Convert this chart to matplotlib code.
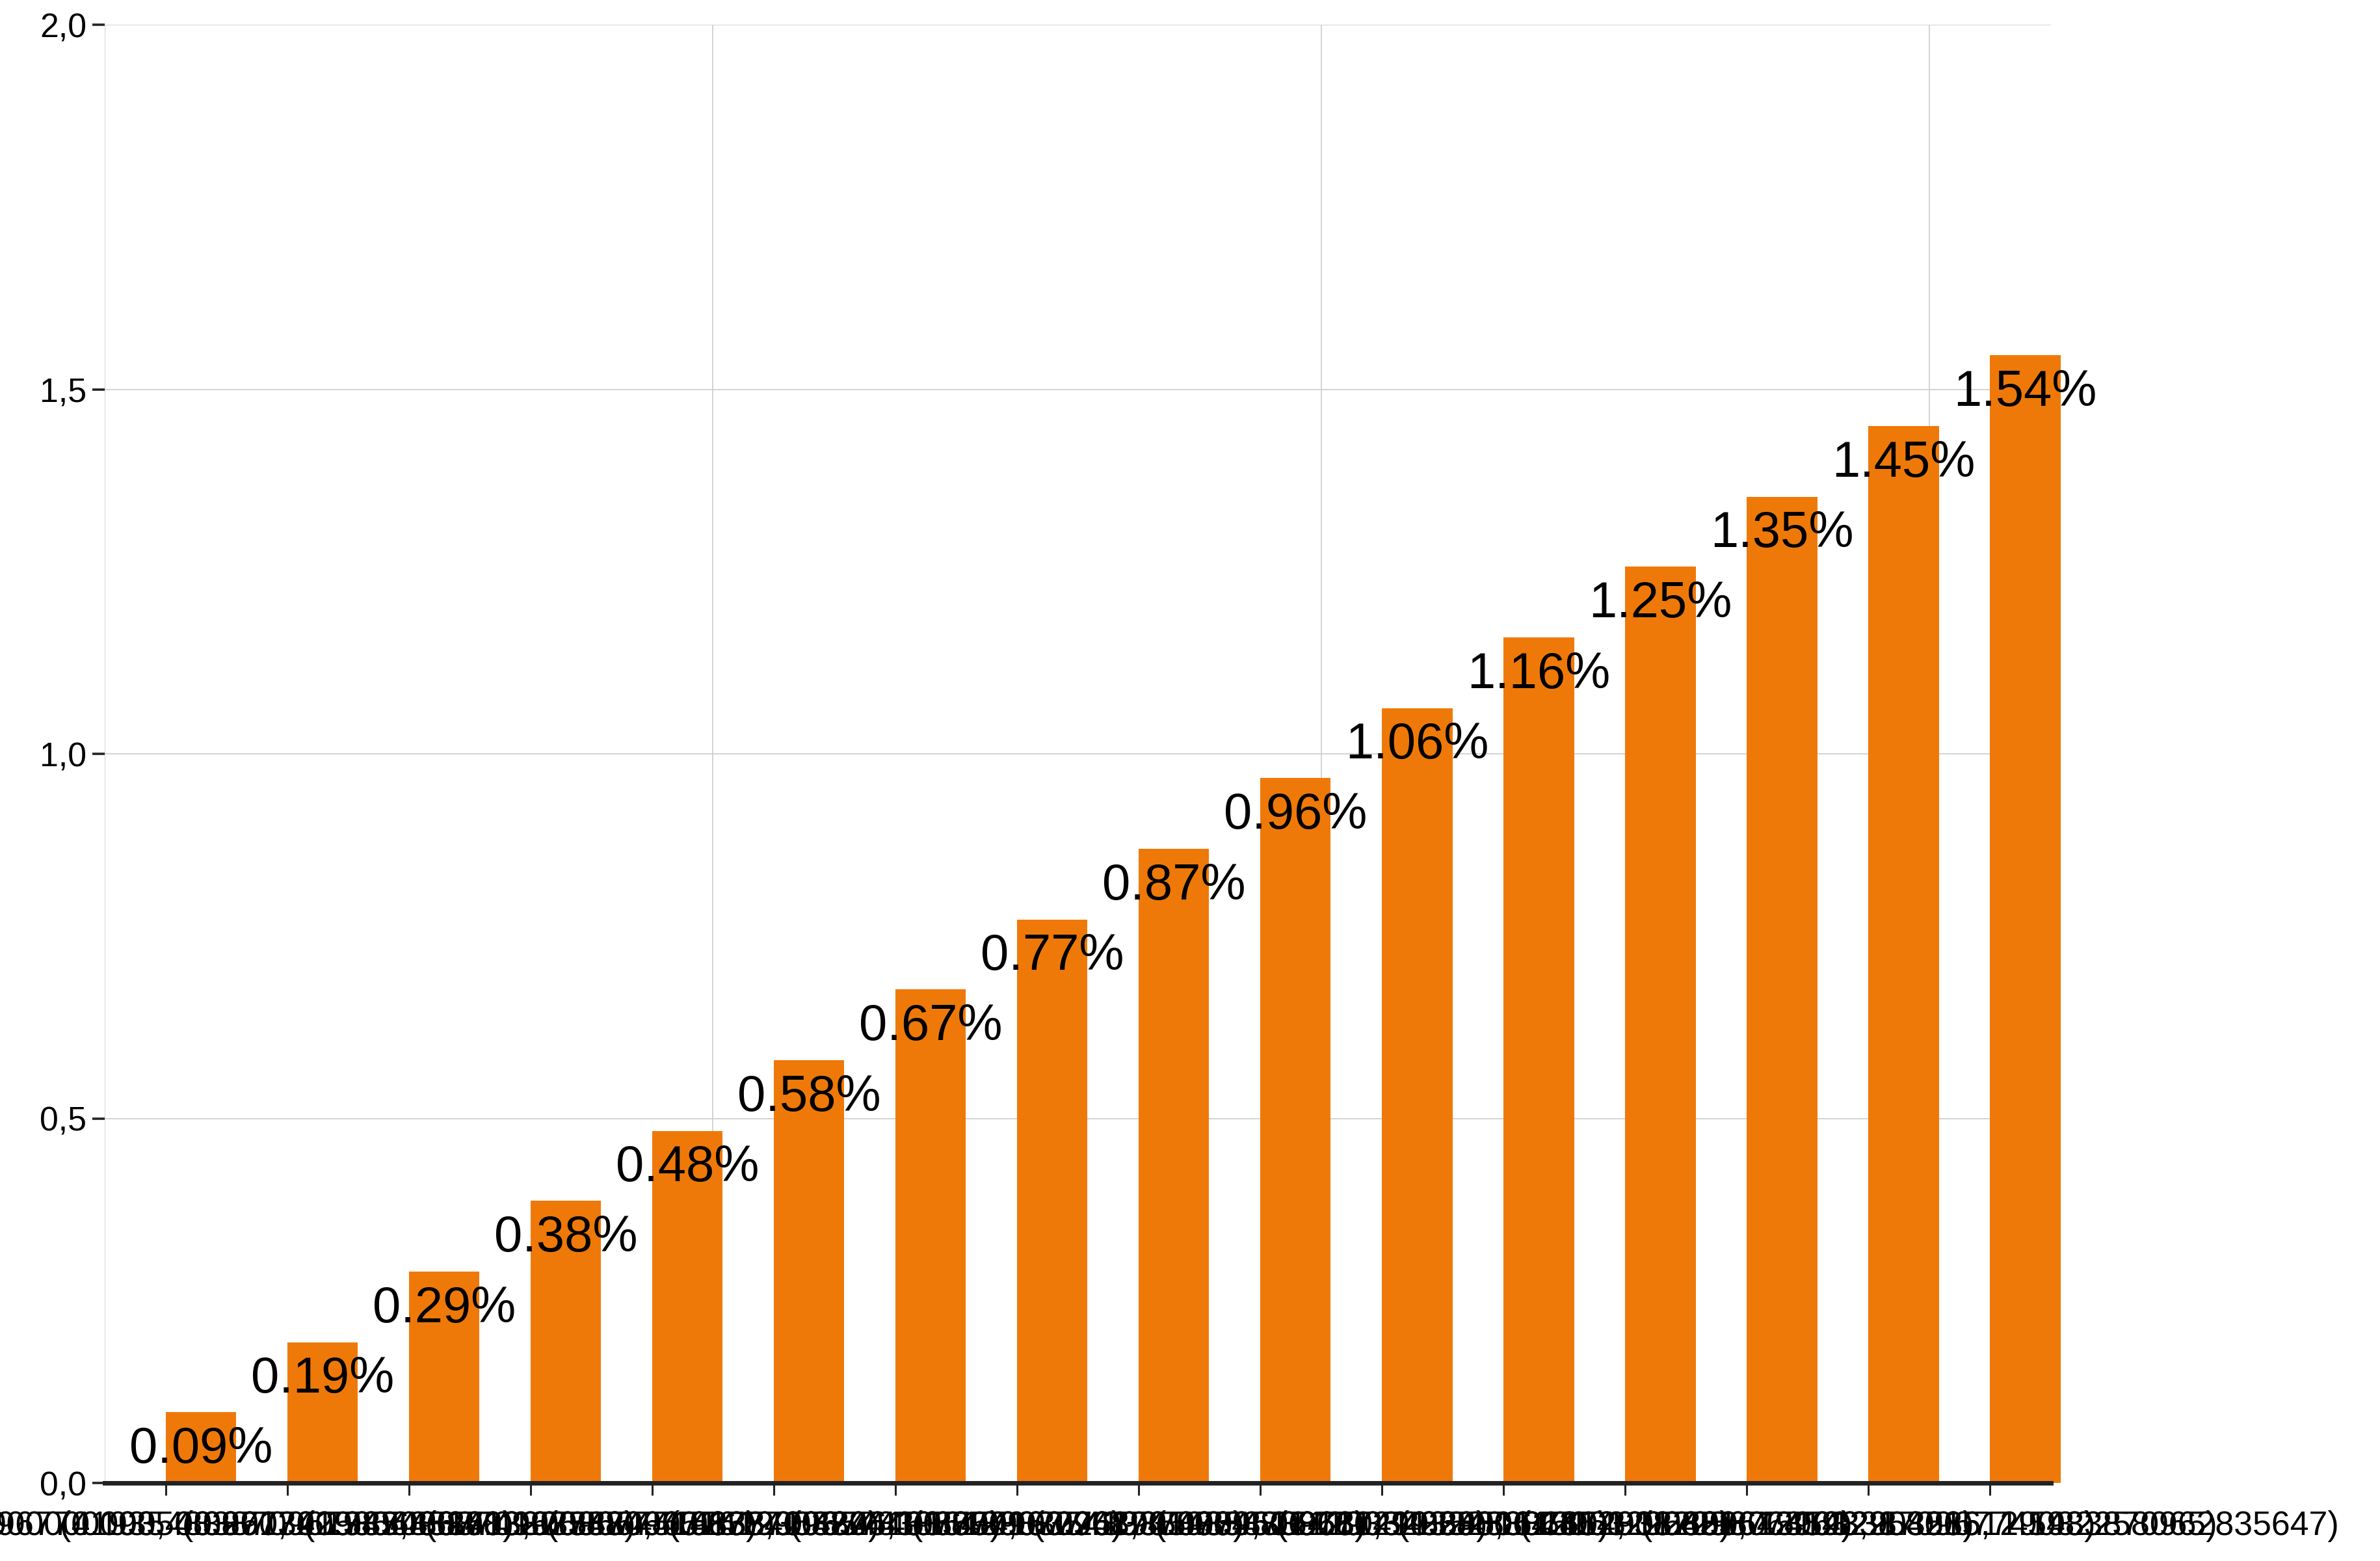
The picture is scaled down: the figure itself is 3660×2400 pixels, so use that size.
import numpy as np
import matplotlib
matplotlib.use('Agg')
import matplotlib.pyplot as plt
from matplotlib.ticker import FixedLocator, FuncFormatter

# bucket labels (intervals), bar values and printed labels
buckets = [
    "(0.0000000000000000, 0.0967741935483871)",
    "(0.0967741935483871, 0.1935483870967742)",
    "(0.1935483870967742, 0.2903225806451613)",
    "(0.2903225806451613, 0.3870967741935484)",
    "(0.3870967741935484, 0.4838709677419355)",
    "(0.4838709677419355, 0.5806451612903226)",
    "(0.5806451612903226, 0.6774193548387097)",
    "(0.6774193548387097, 0.7741935483870968)",
    "(0.7741935483870968, 0.8709677419354839)",
    "(0.8709677419354839, 0.9677419354838710)",
    "(0.9677419354838710, 1.0645161290322580)",
    "(1.0645161290322580, 1.1612903225806452)",
    "(1.1612903225806452, 1.2580645161290323)",
    "(1.2580645161290323, 1.3548387096774193)",
    "(1.3548387096774193, 1.4516129032258065)",
    "(1.4516129032258065, 1.5483870962835647)",
]
values = [0.097, 0.193, 0.290, 0.387, 0.483, 0.580, 0.677, 0.773,
          0.870, 0.967, 1.063, 1.160, 1.257, 1.353, 1.450, 1.547]
pct_labels = ["0.09%", "0.19%", "0.29%", "0.38%", "0.48%", "0.58%", "0.67%", "0.77%",
              "0.87%", "0.96%", "1.06%", "1.16%", "1.25%", "1.35%", "1.45%", "1.54%"]
y_ticks = [0.0, 0.5, 1.0, 1.5, 2.0]
x_grid = [-0.5, 4.5, 9.5, 14.5]

plt.rcParams['font.family'] = ['Liberation Sans', 'DejaVu Sans']

fig = plt.figure(figsize=(18.3, 12), dpi=200)
ax = fig.add_axes([0.044, 0.05, 0.8177, 0.934])

x = np.arange(len(buckets))
bars = ax.bar(x, values, width=0.58, align='edge', color='#ef7908', zorder=2)
for b in bars:
    b.set_clip_on(False)

for b, lab in zip(bars, pct_labels):
    ax.annotate(lab, (b.get_x() + b.get_width() / 2, b.get_height()),
                xytext=(0, -28), textcoords='offset points',
                ha='center', va='baseline', fontsize=28, color='black',
                zorder=3, annotation_clip=False)

ax.set_xlim(-0.5, 15.5)
ax.set_ylim(0, 2.0)

ax.set_xticks(x)
ax.set_xticklabels(buckets, fontsize=18.7)
ax.xaxis.set_minor_locator(FixedLocator(x_grid))
ax.set_yticks(y_ticks)
ax.yaxis.set_major_formatter(FuncFormatter(lambda v, p: f"{v:.1f}".replace('.', ',')))

ax.tick_params(axis='y', labelsize=18.7, length=7, width=1.3, color='#222222', pad=3)
ax.tick_params(axis='x', which='major', length=7, width=1.1, color='#222222', pad=8)
ax.tick_params(axis='x', which='minor', length=0)

ax.grid(True, axis='y', which='major', color='#cccccc', lw=0.6, zorder=0)
ax.grid(True, axis='x', which='minor', color='#cccccc', lw=0.6, zorder=0)
ax.grid(False, axis='x', which='major')

for s in ['top', 'right', 'left']:
    ax.spines[s].set_visible(False)
ax.spines['bottom'].set_color('#222222')
ax.spines['bottom'].set_linewidth(2.5)
ax.spines['bottom'].set_zorder(4)

fig.savefig('out.png', dpi=200)
